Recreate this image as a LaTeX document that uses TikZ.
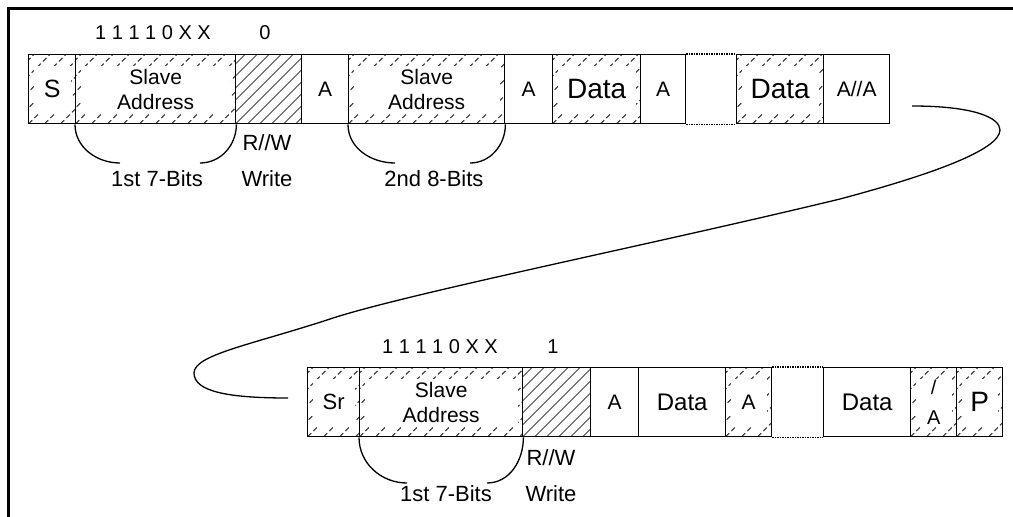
\documentclass[tikz,border=0pt]{standalone}
\usepackage{fontspec}
\setmainfont{Liberation Sans}
\usetikzlibrary{positioning}

\tikzset{
  field/.style={draw, line width=1.4pt, anchor=north west, minimum height=69pt,
    inner sep=0pt, align=center, font=\fontsize{21}{25}\selectfont},
  hatch/.style={path picture={
      \foreach \k in {-80,-64,...,176}
        \draw[gray!40!black, line width=1pt, dash pattern=on 5pt off 3pt]
          ([xshift=\k pt]path picture bounding box.south west) -- ++(120pt,120pt);
      \fill[white] ([shift={(5pt,11pt)}]path picture bounding box.south west)
        rectangle ([shift={(-5pt,-11pt)}]path picture bounding box.north east);}},
  dense/.style={path picture={
      \foreach \k in {-84,-72,...,84}
        \draw[gray!55!black, line width=0.9pt]
          ([xshift=\k pt]path picture bounding box.south west) -- ++(120pt,120pt);}},
  note/.style={font=\fontsize{22}{26}\selectfont, inner sep=0pt},
  bits/.style={font=\fontsize{20}{24}\selectfont, inner sep=0pt},
  brace/.style={line width=1.3pt},
  gap/.style={densely dotted, line width=1.5pt},
}

\begin{document}
\begin{tikzpicture}[x=1pt, y=-1pt]
  \useasboundingbox (0,0) rectangle (1013,517);
  % frame
  \draw[line width=3pt] (8,517) -- (8,8) -- (1013,8);

  % first frame: write
  \node[bits] (addr1) at (153,33) {1 1 1 1 0 X X};
  \node[bits] (dir1) at (265,33) {0};
  \node[field, hatch, minimum width=47pt, font=\fontsize{25}{28}\selectfont] (s) at (28,54) {S};
  \node[field, hatch, minimum width=160pt] (sa1) at (75,54) {Slave\\Address};
  \node[field, dense, minimum width=66pt] (rw1) at (235,54) {};
  \node[field, minimum width=47pt] (a1) at (301,54) {A};
  \node[field, hatch, minimum width=156pt] (sa2) at (348,54) {Slave\\Address};
  \node[field, minimum width=48pt] (a2) at (504,54) {A};
  \node[field, hatch, minimum width=88pt, font=\fontsize{28}{30}\selectfont] (d1) at (552,54) {Data};
  \node[field, minimum width=45pt] (a3) at (640,54) {A};
  \node[field, hatch, minimum width=87pt, font=\fontsize{28}{30}\selectfont] (d2) at (736,54) {Data};
  \node[field, minimum width=66pt] (aa) at (823,54) {A//A};
  \draw[gap] (a3.north east) -- (d2.north west);
  \draw[gap] (a3.south east) -- (d2.south west);

  \node[note] (rwl1) at (267,143) {R//W};
  \node[note] (wr1) at (267,179) {Write};
  \node[note] (first1) at (157,179) {1st 7-Bits};
  \node[note] (second) at (434,179) {2nd 8-Bits};
  \coordinate (b1l) at (120,163);
  \coordinate (b1r) at (200,163);
  \coordinate (b2l) at (395,163);
  \coordinate (b2r) at (470,163);
  \draw[brace] (sa1.south west) to[out=-90,in=180] (b1l);
  \draw[brace] (b1r) to[out=0,in=-90] (sa1.south east);
  \draw[brace] (sa2.south west) to[out=-90,in=180] (b2l);
  \draw[brace] (b2r) to[out=0,in=-90] (sa2.south east);

  % wrap to next line
  \coordinate (wrapa) at (912,106);
  \coordinate (wrapb) at (288,398);
  \draw[brace] (wrapa) .. controls (975,106) and (1000,118) .. (1000,130)
    .. controls (1000,150) and (930,175) .. (840,199)
    .. controls (650,245) and (400,295) .. (327,320)
    .. controls (250,345) and (194,355) .. (194,373)
    .. controls (194,392) and (230,398) .. (wrapb);

  % second frame: read
  \node[bits] (addr2) at (440,347) {1 1 1 1 0 X X};
  \node[bits] (dir2) at (553,347) {1};
  \node[field, hatch, minimum width=52pt, font=\fontsize{22}{25}\selectfont] (sr) at (307,367) {Sr};
  \node[field, hatch, minimum width=163pt] (sa3) at (359,367) {Slave\\Address};
  \node[field, dense, minimum width=68pt] (rw2) at (522,367) {};
  \node[field, minimum width=48pt] (a4) at (590,367) {A};
  \node[field, minimum width=87pt, font=\fontsize{24}{26}\selectfont] (d3) at (638,367) {Data};
  \node[field, hatch, minimum width=46pt] (a5) at (725,367) {A};
  \node[field, minimum width=87pt, font=\fontsize{24}{26}\selectfont] (d4) at (823,367) {Data};
  \node[field, hatch, minimum width=46pt, font=\fontsize{20}{30}\selectfont] (na) at (910,367) {/\\A};
  \node[field, hatch, minimum width=46pt, font=\fontsize{28}{30}\selectfont] (p) at (956,367) {P};
  \draw[gap] (a5.north east) -- (d4.north west);
  \draw[gap] (a5.south east) -- (d4.south west);

  \node[note] (rwl2) at (551,458) {R//W};
  \node[note] (wr2) at (551,494) {Write};
  \node[note] (first2) at (446,494) {1st 7-Bits};
  \coordinate (b3l) at (407,483);
  \coordinate (b3r) at (487,483);
  \draw[brace] (sa3.south west) to[out=-90,in=180] (b3l);
  \draw[brace] (b3r) to[out=0,in=-90] (sa3.south east);
\end{tikzpicture}
\end{document}
